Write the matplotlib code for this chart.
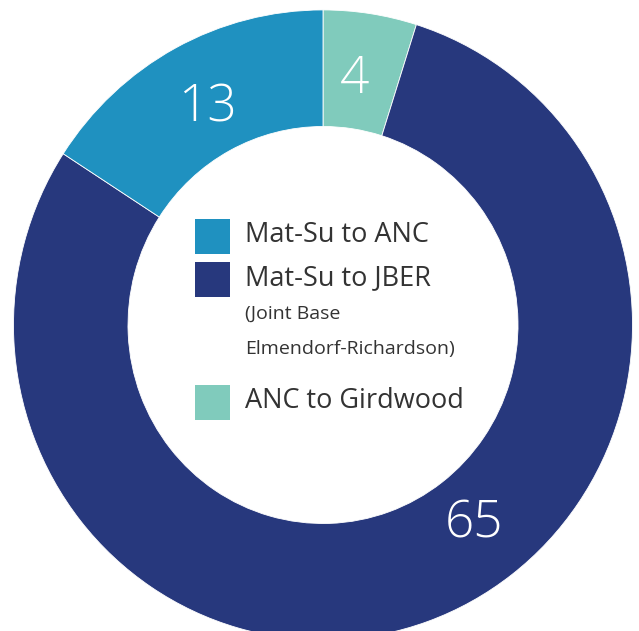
import matplotlib.pyplot as plt
from matplotlib.patches import Rectangle

# trips by route
routes = ["ANC to Girdwood", "Mat-Su to JBER", "Mat-Su to ANC"]
counts = [4, 65, 13]
colors = ["#80CBBC", "#27387D", "#1F91C0"]

legend_order = ["Mat-Su to ANC", "Mat-Su to JBER", "ANC to Girdwood"]
jber_note = ["(Joint Base", "Elmendorf-Richardson)"]

W, H = 639, 631
YS = 1.018  # ring is drawn very slightly taller than wide
cx, cy = 323, 325
r_out, r_in = 309.5, 195

fig = plt.figure(figsize=(W / 100, H / 100), dpi=100)
ax = fig.add_axes([0, 0, 1, 1])
ax.pie(counts, colors=colors, startangle=90, counterclock=False,
       radius=r_out, center=(cx, (H - cy) / YS),
       wedgeprops=dict(width=r_out - r_in, edgecolor="white", linewidth=0.6))
ax.set_aspect("auto")
ax.set_xlim(0, W)
ax.set_ylim(0, H / YS)
ax.axis("off")

# overlay in pixel units (y down) for text and legend
ov = fig.add_axes([0, 0, 1, 1])
ov.set_xlim(0, W)
ov.set_ylim(H, 0)
ov.axis("off")

font = ["Open Sans", "DejaVu Sans"]
value_pos = {"Mat-Su to ANC": (207, 121), "ANC to Girdwood": (355, 93),
             "Mat-Su to JBER": (474, 537)}
for name, n in zip(routes, counts):
    x, y = value_pos[name]
    ov.text(x, y, str(n), color="white", fontsize=37, family=font,
            fontweight="light", ha="center", va="baseline")

swatch_top = {"Mat-Su to ANC": 219, "Mat-Su to JBER": 262, "ANC to Girdwood": 385}
for name in legend_order:
    top = swatch_top[name]
    ov.add_patch(Rectangle((195, top), 35, 35,
                           color=colors[routes.index(name)], lw=0))
    ov.text(245, top + 23, name, color="#333333", fontsize=19.5, family=font,
            ha="left", va="baseline")

for i, line in enumerate(jber_note):
    ov.text(245, 319 + i * 35, line, color="#333333", fontsize=14, family=font,
            ha="left", va="baseline")

fig.savefig("out.png", dpi=100, facecolor="white")
